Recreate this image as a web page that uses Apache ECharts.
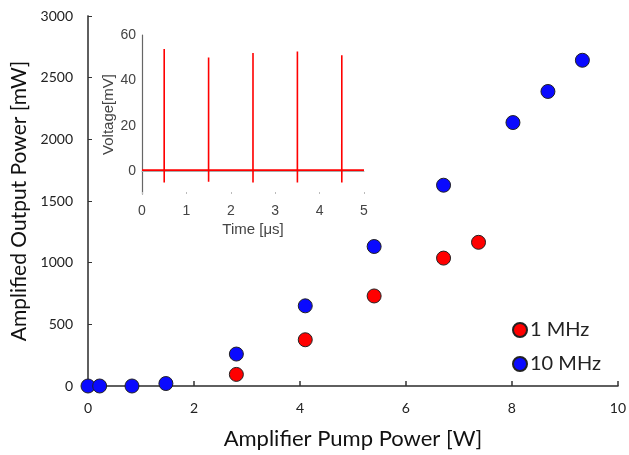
<!DOCTYPE html>
<html>
<head>
<meta charset="utf-8">
<script src="https://cdn.jsdelivr.net/npm/echarts@6/dist/echarts.min.js"></script>
<style>html,body{margin:0;padding:0;background:#fff}#c{width:629px;height:455px}</style>
</head>
<body>
<div id="c"></div>
<script>
// Main chart data: [pump power W, output power mW]
const mhz1 = [[1.47, -5], [2.80, 94], [4.10, 375], [5.40, 730], [6.71, 1037], [7.37, 1165]];
const mhz10 = [[0, 0], [0.22, 0], [0.83, 0], [1.47, 20], [2.80, 259], [4.10, 650], [5.40, 1131], [6.71, 1628], [8.02, 2136], [8.68, 2388], [9.33, 2641]];
const seriesNames = ['1 MHz', '10 MHz'];
const mainXTicks = [0, 2, 4, 6, 8, 10];
const mainYTicks = [0, 500, 1000, 1500, 2000, 2500, 3000];
// Inset pulse train: [time us, voltage mV]
const pulse = [
  [0, 0.5], [0.499, 0.5], [0.5, 53.8], [0.5, -4.9], [0.501, 0.5],
  [1.499, 0.5], [1.5, 50.1], [1.5, -4.6], [1.501, 0.5],
  [2.499, 0.5], [2.5, 52.1], [2.5, -4.9], [2.501, 0.5],
  [3.499, 0.5], [3.5, 52.7], [3.5, -4.9], [3.501, 0.5],
  [4.499, 0.5], [4.5, 51.1], [4.5, -4.9], [4.501, 0.5],
  [5, 0.5]
];
const insetXTicks = [0, 1, 2, 3, 4, 5];
const insetYTicks = [0, 20, 40, 60];

const mainFont = 'Lato, "Open Sans", sans-serif';
const insetFont = '"Liberation Sans", Arial, sans-serif';
const plain = v => String(v);
const chart = echarts.init(document.getElementById('c'), null, {renderer: 'canvas'});
chart.setOption({
  animation: false,
  backgroundColor: '#fff',
  legend: {
    data: seriesNames,
    orient: 'vertical', left: 507, top: 315, itemGap: 14,
    icon: 'circle', itemWidth: 14, itemHeight: 14,
    itemStyle: {opacity: 1},
    textStyle: {fontFamily: mainFont, fontSize: 20, color: '#222', padding: [0, 0, 0, -2]}
  },
  grid: [
    {left: 88, top: 16, width: 532, height: 374, show: false},
    {left: 142, top: 35, width: 222, height: 159, show: false}
  ],
  xAxis: [
    {gridIndex: 0, type: 'value', min: 0, max: 10, interval: 2,
     name: 'Amplifier Pump Power [W]', nameLocation: 'middle', nameGap: 42,
     nameTextStyle: {fontFamily: mainFont, fontSize: 22, color: '#111'},
     axisLine: {show: true, onZero: false, lineStyle: {color: '#555', width: 1.5}},
     axisTick: {show: true, inside: true, length: 5, lineStyle: {color: '#333', width: 1.5}},
     axisLabel: {fontFamily: mainFont, fontSize: 14, color: '#222', margin: 15,
       customValues: mainXTicks, formatter: plain},
     splitLine: {show: false}},
    {gridIndex: 0, type: 'value', position: 'top', min: 0, max: 10,
     axisLine: {show: true, lineStyle: {color: '#555', width: 1.5}},
     axisTick: {show: false}, axisLabel: {show: false}, splitLine: {show: false}},
    {gridIndex: 1, type: 'value', min: 0, max: 5, interval: 1,
     name: 'Time [\u03bcs]', nameLocation: 'middle', nameGap: 28,
     nameTextStyle: {fontFamily: insetFont, fontSize: 15, color: '#444'},
     axisLine: {show: false, onZero: false},
     axisTick: {show: true, inside: true, length: 2, lineStyle: {color: '#bbb'}},
     axisLabel: {fontFamily: insetFont, fontSize: 14, color: '#444', margin: 10,
       customValues: insetXTicks, formatter: plain},
     splitLine: {show: false}},
    {gridIndex: 1, type: 'value', position: 'top', min: 0, max: 5,
     axisLine: {show: true, lineStyle: {color: '#aaa', width: 1}},
     axisTick: {show: false}, axisLabel: {show: false}, splitLine: {show: false}}
  ],
  yAxis: [
    {gridIndex: 0, type: 'value', min: 0, max: 3000, interval: 500,
     name: 'Amplified Output Power [mW]', nameLocation: 'middle', nameGap: 50,
     nameTextStyle: {fontFamily: mainFont, fontSize: 21, color: '#111'},
     axisLine: {show: true, onZero: false, lineStyle: {color: '#555', width: 1.5}},
     axisTick: {show: true, inside: true, length: 4, lineStyle: {color: '#333', width: 1}},
     axisLabel: {fontFamily: mainFont, fontSize: 14, color: '#222', margin: 15,
       customValues: mainYTicks, formatter: plain},
     splitLine: {show: false}},
    {gridIndex: 0, type: 'value', position: 'right', min: 0, max: 3000,
     axisLine: {show: true, lineStyle: {color: '#555', width: 1.5}},
     axisTick: {show: false}, axisLabel: {show: false}, splitLine: {show: false}},
    {gridIndex: 1, type: 'value', min: -10, max: 60,
     name: 'Voltage[mV]', nameLocation: 'middle', nameGap: 23,
     nameTextStyle: {fontFamily: insetFont, fontSize: 15, color: '#444'},
     axisLine: {show: true, onZero: false, lineStyle: {color: '#666', width: 1.2}},
     axisTick: {show: false},
     axisLabel: {fontFamily: insetFont, fontSize: 14, color: '#444', margin: 6,
       customValues: insetYTicks, formatter: plain},
     splitLine: {show: false}}
  ],
  series: [
    {name: seriesNames[0], type: 'scatter', xAxisIndex: 0, yAxisIndex: 0,
     data: mhz1, symbolSize: 14,
     itemStyle: {color: '#ff0000', borderColor: '#222', borderWidth: 1, opacity: 1}},
    {name: seriesNames[1], type: 'scatter', xAxisIndex: 0, yAxisIndex: 0,
     data: mhz10, symbolSize: 14,
     itemStyle: {color: '#0a0aff', borderColor: '#222', borderWidth: 1, opacity: 1}},
    {name: 'pulse', type: 'line', xAxisIndex: 2, yAxisIndex: 2,
     data: pulse, showSymbol: false, symbol: 'none',
     lineStyle: {color: '#ff0000', width: 1.6}}
  ]
});
</script>
</body>
</html>
